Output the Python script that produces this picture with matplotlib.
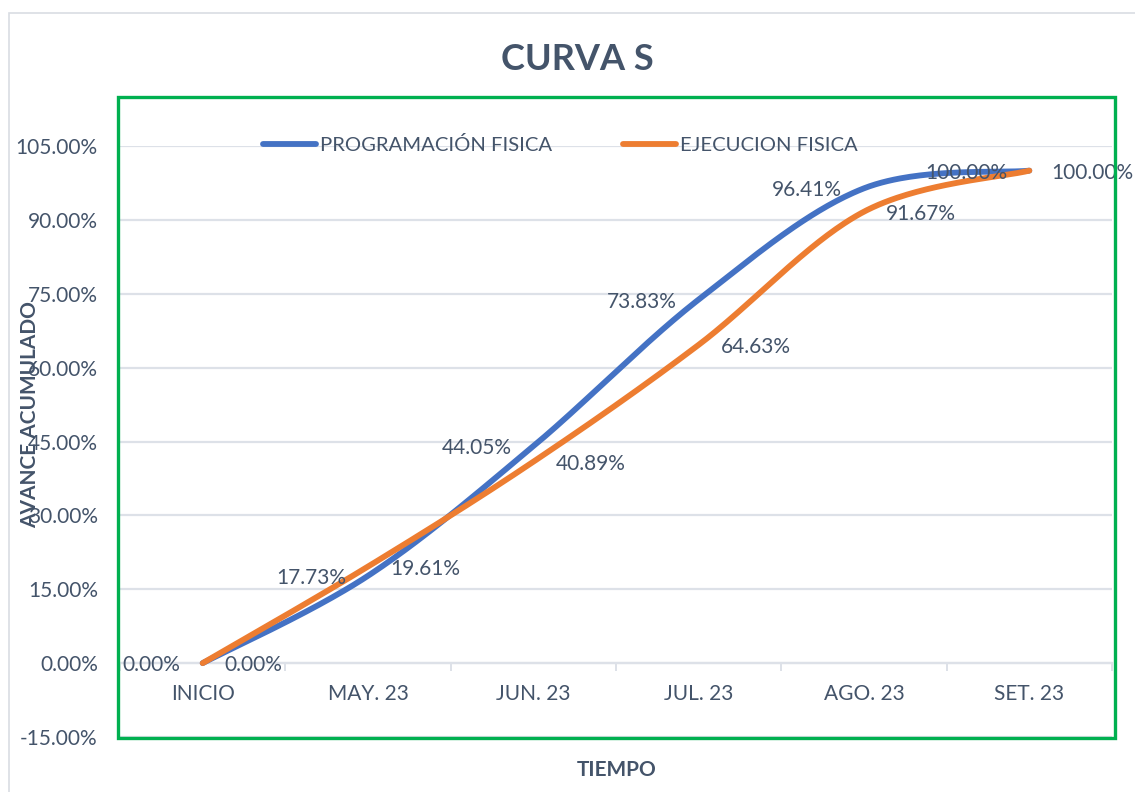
import numpy as np
import matplotlib
matplotlib.use("Agg")
import matplotlib.pyplot as plt
from matplotlib.patches import Rectangle

# data
categorias = ["INICIO", "MAY. 23", "JUN. 23", "JUL. 23", "AGO. 23", "SET. 23"]
programacion = [0.00, 17.73, 44.05, 73.83, 96.41, 100.00]
ejecucion = [0.00, 19.61, 40.89, 64.63, 91.67, 100.00]

txt = "#44546A"
grid_c = "#DDE1E8"
fs = 15
plt.rcParams["font.family"] = ["Lato", "DejaVu Sans"]


def suavizar(x, y, n=60):
    # Excel-like smoothing (Catmull-Rom through cubic Bezier segments)
    x = np.asarray(x, float)
    y = np.asarray(y, float)
    px = np.concatenate([[x[0]], x, [x[-1]]])
    py = np.concatenate([[y[0]], y, [y[-1]]])
    xs, ys = [], []
    t = np.linspace(0, 1, n)
    for i in range(1, len(px) - 2):
        p0 = np.array([px[i], py[i]])
        p3 = np.array([px[i + 1], py[i + 1]])
        p1 = p0 + (np.array([px[i + 1], py[i + 1]]) - np.array([px[i - 1], py[i - 1]])) / 6
        p2 = p3 - (np.array([px[i + 2], py[i + 2]]) - p0) / 6
        b = ((1 - t) ** 3)[:, None] * p0 + (3 * (1 - t) ** 2 * t)[:, None] * p1 \
            + (3 * (1 - t) * t ** 2)[:, None] * p2 + (t ** 3)[:, None] * p3
        xs.extend(b[:, 0])
        ys.extend(b[:, 1])
    return np.array(xs), np.array(ys)


fig = plt.figure(figsize=(11.35, 7.92), dpi=100)
ax = fig.add_axes([120 / 1135, 1 - 737 / 792, (1112 - 120) / 1135, (737 - 146) / 792])

xi = np.arange(len(categorias))
bx, by = suavizar(xi, programacion)
ox, oy = suavizar(xi, ejecucion)
ax.plot(bx, by, color="#4472C4", lw=4.2, solid_capstyle="round", label="PROGRAMACIÓN FISICA", zorder=3)
ax.plot(ox, oy, color="#ED7D31", lw=4.2, solid_capstyle="round", label="EJECUCION FISICA", zorder=4)

for x, v in zip(xi, programacion):
    ax.annotate(f"{v:.2f}%", (x, v), xytext=(-22, -2), textcoords="offset pixels",
                ha="right", va="center", fontsize=fs, color=txt, zorder=5, annotation_clip=False)
for x, v in zip(xi, ejecucion):
    ax.annotate(f"{v:.2f}%", (x, v), xytext=(22, -2), textcoords="offset pixels",
                ha="left", va="center", fontsize=fs, color=txt, zorder=5, annotation_clip=False)

ax.set_xlim(-0.5, len(categorias) - 0.5)
ax.set_ylim(-15, 105)
ax.set_yticks(np.arange(-15, 106, 15))
ax.set_yticklabels([f"{v:.2f}%" for v in np.arange(-15, 106, 15)])
ax.yaxis.grid(True, color=grid_c, lw=1.6)
ax.set_axisbelow(True)

ax.spines["bottom"].set_position(("data", 0))
ax.spines["bottom"].set_color(grid_c)
ax.spines["bottom"].set_linewidth(1.6)
for s in ["top", "right", "left"]:
    ax.spines[s].set_visible(False)
ax.set_xticks(xi)
ax.set_xticklabels(categorias)
ax.set_xticks(np.arange(-0.5, len(categorias), 1), minor=True)
ax.tick_params(axis="x", which="major", length=0, pad=15, labelsize=fs, labelcolor=txt)
ax.tick_params(axis="x", which="minor", length=6, width=1.4, color=grid_c)
ax.tick_params(axis="y", length=0, pad=16, labelsize=fs, labelcolor=txt)

ax.legend(loc="center left", bbox_to_anchor=((263 - 120) / 992, (737 - 145) / 591), ncol=2,
          frameon=False, fontsize=14.6, labelcolor=txt, borderpad=0, borderaxespad=0,
          handlelength=2.6, columnspacing=3.5, handletextpad=0.2)

fig.text(577 / 1135, 1 - 60 / 792, "CURVA S", ha="center", va="center",
         fontsize=26, fontweight="bold", color=txt)
fig.text(617 / 1135, 1 - 770 / 792, "TIEMPO", ha="center", va="center",
         fontsize=15, fontweight="bold", color=txt)
fig.text(30 / 1135, 1 - 415 / 792, "AVANCE ACUMULADO", ha="center", va="center",
         rotation=90, fontsize=15, fontweight="bold", color=txt)

# plot area outline and chart border
fig.patches.append(Rectangle((118 / 1135, 1 - 738 / 792), (1115 - 118) / 1135, (738 - 97) / 792,
                             transform=fig.transFigure, fill=False, ec="#00B050", lw=2.4, zorder=10))
fig.patches.append(Rectangle((9 / 1135, -0.05), 1.1, 1 - 13 / 792 + 0.05,
                             transform=fig.transFigure, fill=False, ec="#D9DDE3", lw=1.2, zorder=0))

fig.savefig("out.png", dpi=100)
